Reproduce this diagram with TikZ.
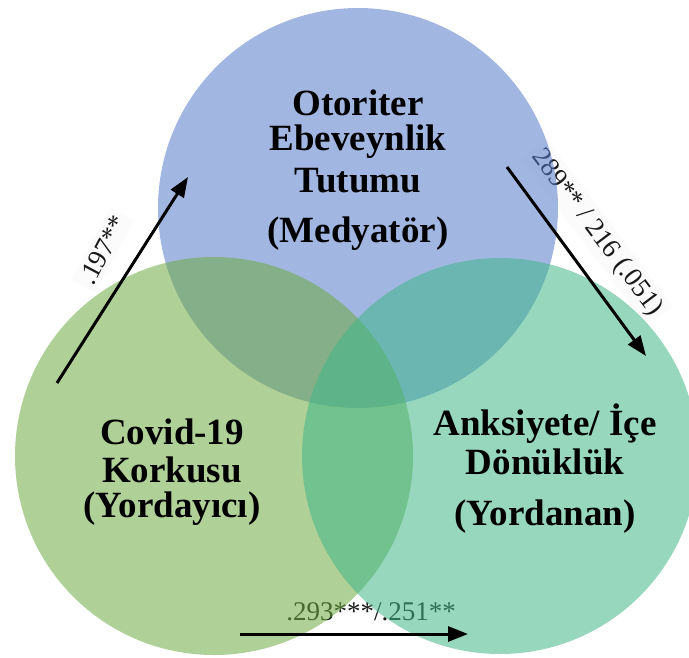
\documentclass[tikz,border=0pt]{standalone}
\usepackage{fontspec}
\setmainfont{Liberation Serif}
\usetikzlibrary{arrows.meta}
\definecolor{cblue}{RGB}{86,122,202}
\definecolor{cgreen}{RGB}{110,170,64}
\definecolor{cteal}{RGB}{64,182,137}
\definecolor{lblgray}{RGB}{25,25,25}
\definecolor{lblbg}{RGB}{251,251,251}
\tikzset{
  circ/.style={circle, minimum size=400pt, inner sep=0pt, fill opacity=0.55},
  head/.style={font=\bfseries\fontsize{37}{40}\selectfont, align=center, text=black},
  coef/.style={font=\fontsize{27}{30}\selectfont, text=lblgray, inner sep=4pt},
  arr/.style={-{Triangle[length=20pt,width=15pt]}, line width=3pt}
}
\begin{document}
\begin{tikzpicture}[x=1pt,y=-1pt]
\useasboundingbox (0,0) rectangle (689,657);
% coefficient labels (beneath the translucent circles)
\node[coef, rotate=62, fill=lblbg] (c1) at (103,250) {.197**};
\node[coef, rotate=-53, fill=lblbg] (c2) at (597,233) {289** / 216 (.051)};
\node[coef] (c3) at (371,612) {.293***/.251**};
\begin{scope}
\clip (0,0) rectangle (689,657);
\node[circ, fill=cblue] (top) at (358,208) {};
\node[circ, fill=cgreen, minimum size=398pt] (left) at (214,456) {};
\node[circ, fill=cteal, minimum size=396pt] (right) at (500,456) {};
\end{scope}
\node[head] (t1) at (358,103) {Otoriter};
\node[head] (t2) at (358,142) {Ebeveynlik};
\node[head] (t3) at (358,181) {Tutumu};
\node[head] (t4) at (358,234) {(Medyatör)};
\node[head] (l1) at (172,432) {Covid-19};
\node[head] (l2) at (172,470) {Korkusu};
\node[head] (l3) at (172,509) {(Yordayıcı)};
\node[head] (r1) at (545,424) {Anksiyete/ İçe};
\node[head] (r2) at (545,462) {Dönüklük};
\node[head] (r3) at (545,517) {(Yordanan)};
\coordinate (a1s) at (57,383);
\coordinate (a1e) at (188,177);
\coordinate (a2s) at (507,167);
\coordinate (a2e) at (646,356);
\coordinate (a3s) at (240,634);
\coordinate (a3e) at (468,634);
\draw[arr] (a1s) -- (a1e);
\draw[arr] (a2s) -- (a2e);
\draw[arr] (a3s) -- (a3e);
\end{tikzpicture}
\end{document}
